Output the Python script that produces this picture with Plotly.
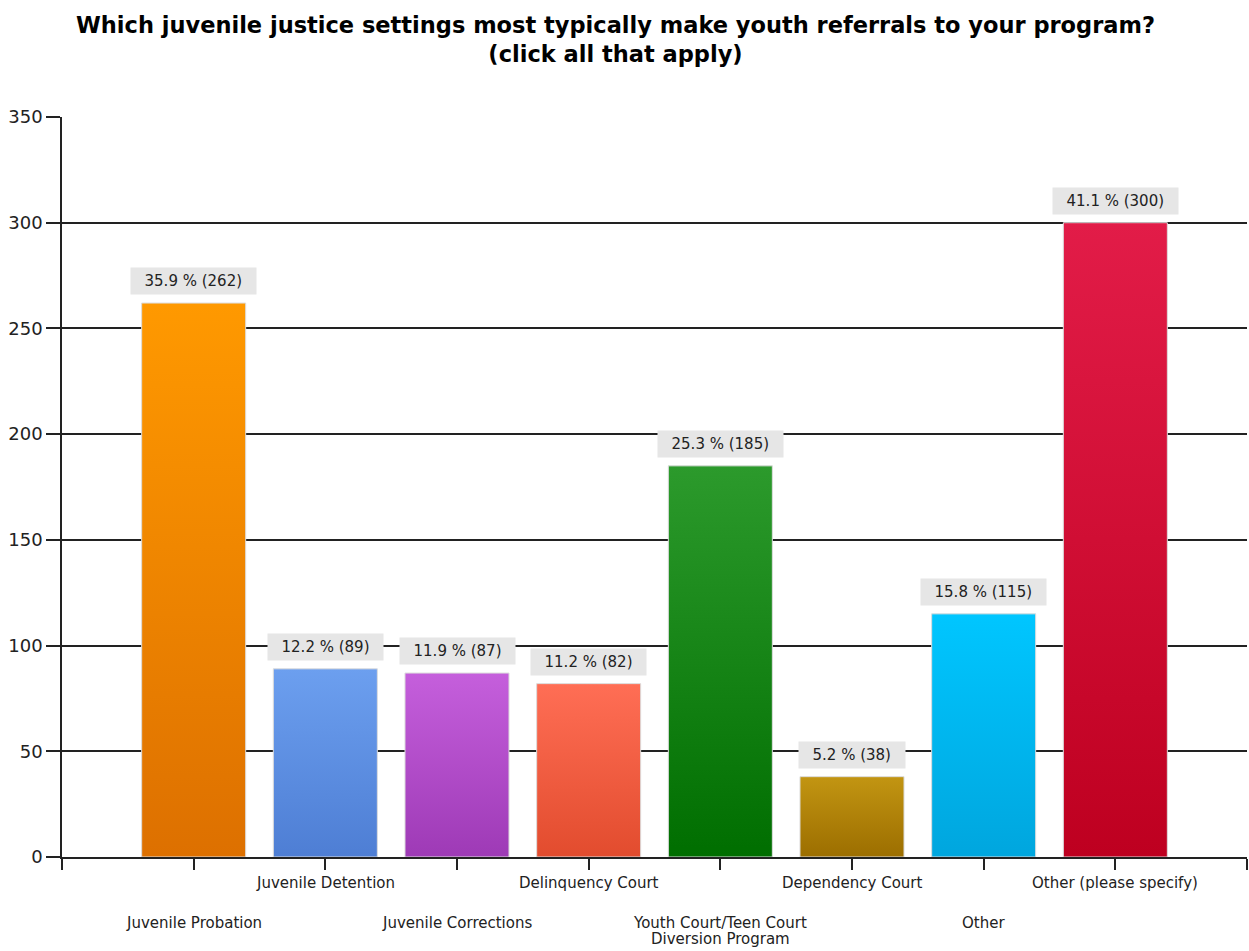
import plotly.graph_objects as go

# Survey responses: juvenile justice referral sources
categories = [
    "Juvenile Probation",
    "Juvenile Detention",
    "Juvenile Corrections",
    "Delinquency Court",
    "Youth Court/Teen Court<br>Diversion Program",
    "Dependency Court",
    "Other",
    "Other (please specify)",
]
counts = [262, 89, 87, 82, 185, 38, 115, 300]
percents = [35.9, 12.2, 11.9, 11.2, 25.3, 5.2, 15.8, 41.1]

# (bottom colour, top colour) of each bar's vertical gradient
bar_colors = [
    ("#DD7000", "#FF9900"),
    ("#4E7ED4", "#6C9FEF"),
    ("#9E3AB6", "#C55FDC"),
    ("#E24C2E", "#FF6E55"),
    ("#006E00", "#2C9A2C"),
    ("#9C6E00", "#C29512"),
    ("#00A6DE", "#00C6FF"),
    ("#BE0020", "#E21C48"),
]

TITLE = ("Which juvenile justice settings most typically make youth referrals to your program?"
         "<br>(click all that apply)")

TEXT = "#222222"
FONT = "DejaVu Sans"
HALF_W = 0.395

fig = go.Figure()

for i, (cnt, (c_bot, c_top)) in enumerate(zip(counts, bar_colors)):
    xc = i + 1
    fig.add_trace(go.Scatter(
        x=[xc - HALF_W, xc + HALF_W, xc + HALF_W, xc - HALF_W, xc - HALF_W],
        y=[0, 0, cnt, cnt, 0],
        mode="lines",
        fill="toself",
        fillcolor=c_top,
        fillgradient=dict(type="vertical", colorscale=[[0, c_bot], [1, c_top]]),
        line=dict(color="#DCDCDC", width=1),
        hoverinfo="skip",
        showlegend=False,
    ))

annotations = []
# value labels above each bar
for i, (cnt, pct) in enumerate(zip(counts, percents)):
    annotations.append(dict(
        x=i + 1, y=cnt, xref="x", yref="y",
        text="\u00a0\u00a0" + f"{pct} % ({cnt})" + "\u00a0\u00a0",
        showarrow=False, yanchor="bottom", yshift=8,
        bgcolor="#E6E6E6", borderpad=4,
        font=dict(family=FONT, size=15, color=TEXT),
    ))

# category labels, staggered on two rows; wrapped labels use a tight line gap
for i, cat in enumerate(categories):
    upper = (i % 2 == 1)
    base = -15 if upper else -55
    for k, line in enumerate(cat.split("<br>")):
        annotations.append(dict(
            x=i + 1, y=0, xref="x", yref="y",
            text=line, showarrow=False, yanchor="top",
            yshift=base - 16 * k,
            font=dict(family=FONT, size=15, color=TEXT),
        ))

# chart title
annotations.append(dict(
    x=(615 - 62) / 1185, xref="paper", xanchor="center",
    y=1 + (117 - 10) / 740, yref="paper", yanchor="top",
    text=TITLE, showarrow=False,
    font=dict(family=FONT, size=22.5, color="#000000", weight="bold"),
))

fig.update_layout(
    width=1249, height=951,
    margin=dict(l=62, r=2, t=117, b=94),
    paper_bgcolor="white", plot_bgcolor="white",
    annotations=annotations,
    xaxis=dict(
        range=[0, 9], tickvals=list(range(10)), showticklabels=False,
        ticks="outside", ticklen=11, tickwidth=1.5, tickcolor="#222",
        showline=True, linecolor="#222", linewidth=1.5,
        showgrid=False, zeroline=False, fixedrange=True,
    ),
    yaxis=dict(
        range=[0, 350], dtick=50, tick0=0,
        ticks="outside", ticklen=14, tickwidth=1.5, tickcolor="#222",
        showline=True, linecolor="#222", linewidth=1.5,
        showgrid=True, gridcolor="#222", gridwidth=1.5,
        zeroline=False, fixedrange=True,
        tickfont=dict(family=FONT, size=18, color=TEXT),
    ),
)

fig.write_html("out.html")
